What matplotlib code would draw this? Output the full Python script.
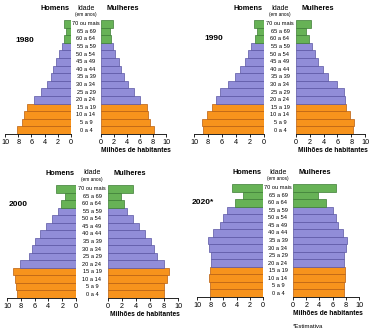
import matplotlib.pyplot as plt
from matplotlib.transforms import blended_transform_factory

plt.rcParams['font.family'] = ['Liberation Sans', 'DejaVu Sans']

# faixas etarias, de baixo para cima
idades = ['0 a 4', '5 a 9', '10 a 14', '15 a 19', '20 a 24', '25 a 29', '30 a 34',
          '35 a 39', '40 a 44', '45 a 49', '50 a 54', '55 a 59', '60 a 64',
          '65 a 69', '70 ou mais']
ticks = [0, 2, 4, 6, 8, 10]

# populacao em milhoes de habitantes
homens_1980 = [8.2, 7.4, 7.1, 6.7, 5.6, 4.5, 3.7, 3.0, 2.7, 2.2, 1.8, 1.4, 1.0, 0.8, 1.1]
mulheres_1980 = [8.2, 7.6, 7.3, 7.0, 6.0, 5.1, 4.2, 3.5, 3.1, 2.7, 2.2, 1.9, 1.5, 1.4, 1.8]
homens_1990 = [8.65, 8.9, 8.2, 7.45, 6.9, 6.25, 5.2, 4.1, 3.4, 2.7, 2.3, 1.8, 1.35, 1.0, 1.4]
mulheres_1990 = [8.2, 8.45, 7.8, 7.25, 7.1, 6.9, 5.9, 4.7, 3.9, 3.2, 2.8, 2.3, 1.9, 1.45, 2.2]
homens_2000 = [8.55, 8.65, 8.9, 9.1, 8.1, 6.85, 6.4, 6.0, 5.2, 4.3, 3.5, 2.6, 2.2, 1.65, 2.85]
mulheres_2000 = [7.95, 7.95, 8.4, 8.75, 7.95, 7.0, 6.6, 6.15, 5.3, 4.4, 3.5, 2.75, 2.3, 1.8, 3.5]
homens_2020 = [8.0, 8.1, 8.2, 8.1, 7.9, 7.9, 8.2, 8.3, 7.6, 6.55, 6.05, 5.4, 4.2, 3.0, 4.65]
mulheres_2020 = [7.8, 7.8, 7.95, 7.95, 7.8, 7.8, 8.1, 8.15, 7.6, 6.8, 6.45, 6.05, 4.95, 3.8, 6.45]

laranja, lilas, verde = '#f7931c', '#918dd8', '#67b256'
cores = [laranja] * 4 + [lilas] * 8 + [verde] * 3
bordas = ['#b85f10'] * 4 + ['#5a55a3'] * 8 + ['#3d7d35'] * 3

W, H = 372, 331
fig = plt.figure(figsize=(W / 100, H / 100), dpi=100)


def eixo(x0, x1, top, bottom):
    return fig.add_axes([x0 / W, 1 - bottom / H, (x1 - x0) / W, (bottom - top) / H])


def piramide(ano, homens, mulheres, lx, rx, top, bottom, ano_xy, nota=False):
    axl = eixo(lx[0], lx[1], top, bottom)
    axr = eixo(rx[0], rx[1], top, bottom)
    y = range(len(idades))
    axl.barh(y, homens, height=1.0, color=cores, edgecolor=bordas, linewidth=0.5)
    axr.barh(y, mulheres, height=1.0, color=cores, edgecolor=bordas, linewidth=0.5)
    axl.set_xlim(10, 0)
    axr.set_xlim(0, 10)
    for ax in (axl, axr):
        ax.set_ylim(-0.5, len(idades) - 0.5)
        ax.set_yticks([])
        ax.set_xticks(ticks)
        ax.set_xticklabels([str(t) for t in ticks], fontsize=5.2)
        ax.tick_params(axis='x', length=2, width=0.6, pad=1.5)
        for s in ('top', 'left', 'right'):
            ax.spines[s].set_visible(False)
        ax.spines['bottom'].set_linewidth(0.6)
        ax.patch.set_alpha(0)

    # rotulos das idades no centro
    xm = (lx[1] + rx[0]) / 2 / W
    tr = blended_transform_factory(fig.transFigure, axl.transData)
    for i, txt in enumerate(idades):
        fig.text(xm, i, txt, transform=tr, ha='center', va='center', fontsize=4.1)

    fy = lambda p: 1 - p / H
    fig.text((lx[1] - 16) / W, fy(top - 11), 'Homens', ha='center', va='center',
             fontsize=5.3, fontweight='bold')
    fig.text(xm, fy(top - 12), 'Idade', ha='center', va='center', fontsize=5)
    fig.text(xm, fy(top - 5.5), '(em anos)', ha='center', va='center', fontsize=3.4)
    fig.text((rx[0] + 22) / W, fy(top - 11), 'Mulheres', ha='center', va='center',
             fontsize=5.3, fontweight='bold')
    fig.text(ano_xy[0] / W, fy(ano_xy[1]), ano, ha='center', va='center',
             fontsize=6, fontweight='bold')
    fig.text(((rx[0] + rx[1]) / 2 + 2) / W, fy(bottom + 16.5), 'Milhões de habitantes',
             ha='center', va='center', fontsize=4.8, fontweight='bold')
    if nota:
        fig.text(rx[0] / W, fy(bottom + 29), '*Estimativa', ha='left', va='center',
                 fontsize=4.3)


piramide('1980', homens_1980, mulheres_1980, (5, 71), (101, 166), 20, 134, (25, 41))
piramide('1990', homens_1990, mulheres_1990, (194, 264), (296, 365), 20, 134, (214, 39))
piramide('2000', homens_2000, mulheres_2000, (7, 76), (108, 178), 185, 298, (18, 204))
piramide('2020*', homens_2020, mulheres_2020, (197, 263), (293, 359), 184, 297, (203, 202),
         nota=True)

fig.savefig('out.png', dpi=100)
